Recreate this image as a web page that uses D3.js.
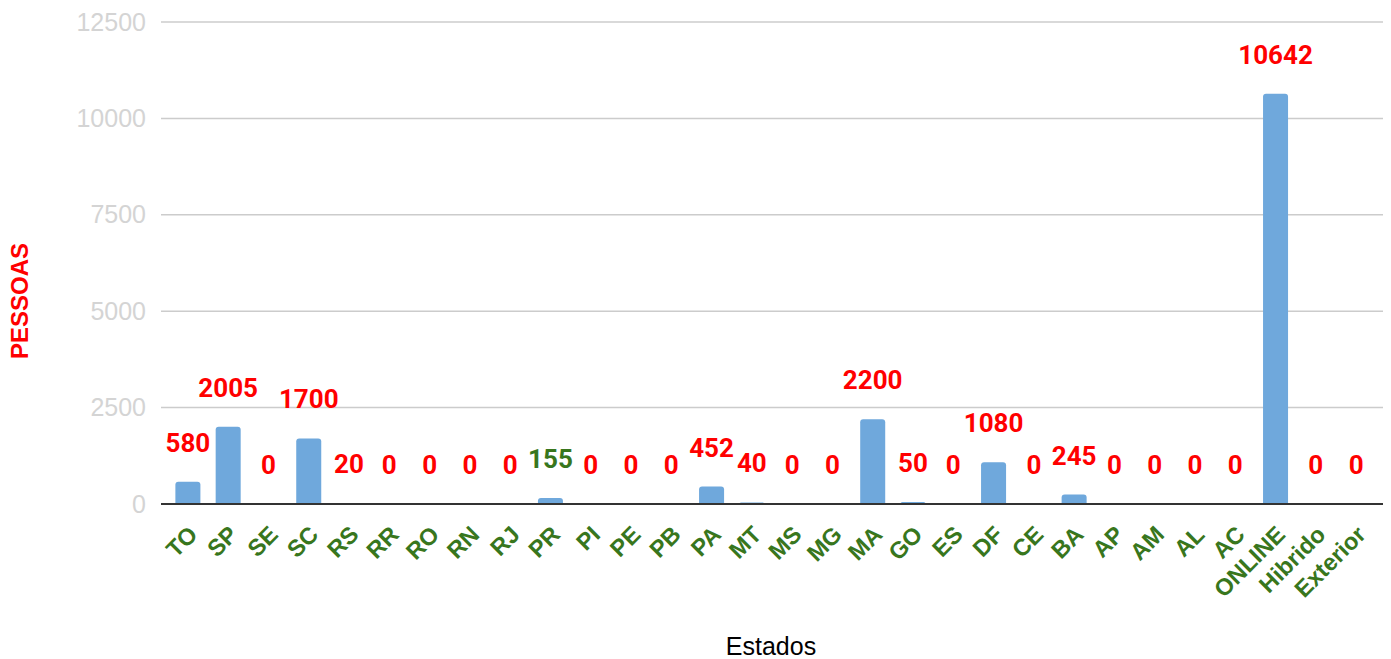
<!DOCTYPE html>
<html><head><meta charset="utf-8">
<script src="https://cdn.jsdelivr.net/npm/d3@7"></script>
<style>
html,body{margin:0;padding:0;background:#fff;}
svg{display:block;}
</style></head>
<body><svg id="chart" width="1391" height="659"></svg>
<script>
const categories = ["TO","SP","SE","SC","RS","RR","RO","RN","RJ","PR","PI","PE","PB","PA","MT","MS","MG","MA","GO","ES","DF","CE","BA","AP","AM","AL","AC","ONLINE","Hibrido","Exterior"];
const values = [580,2005,0,1700,20,0,0,0,0,155,0,0,0,452,40,0,0,2200,50,0,1080,0,245,0,0,0,0,10642,0,0];
const greenLabels = ["PR"];
const yTicks = [0,2500,5000,7500,10000,12500];

(function(){
const svg = d3.select("#chart");
const pLeft = 161, pRight = 1383, pTop = 22, pBottom = 504;

const x = d3.scaleBand().domain(categories).range([pLeft, pRight]).paddingInner(0.379).paddingOuter(0.357);
const y = d3.scaleLinear().domain([0, 12500]).range([pBottom, pTop]);

// gridlines
svg.append("g").selectAll("line").data(yTicks.filter(d => d > 0)).join("line")
  .attr("x1", pLeft).attr("x2", pRight)
  .attr("y1", d => y(d)).attr("y2", d => y(d))
  .attr("stroke", "#cccccc").attr("stroke-width", 1.5);

// y tick labels
const yAxis = d3.axisLeft(y).tickValues(yTicks).tickFormat(d3.format("d")).tickSize(0).tickPadding(15);
const gy = svg.append("g").attr("transform", `translate(${pLeft},0)`).call(yAxis);
gy.select(".domain").remove();
gy.selectAll("text").attr("fill", "#d4d4d4").style("font-family", "Arial, 'Liberation Sans', sans-serif").style("font-size", "25px");

// bars with rounded tops
const r = 3;
svg.append("g").selectAll("path").data(categories).join("path")
  .attr("fill", "#6fa8dc")
  .attr("d", (c, i) => {
    const x0 = x(c), w = x.bandwidth(), yt = y(values[i]), yb = y(0);
    if (values[i] <= 0) return "";
    const h = yb - yt, rr = Math.min(r, h);
    return `M${x0},${yb} L${x0},${yt + rr} Q${x0},${yt} ${x0 + rr},${yt} L${x0 + w - rr},${yt} Q${x0 + w},${yt} ${x0 + w},${yt + rr} L${x0 + w},${yb} Z`;
  });

// baseline
svg.append("line").attr("x1", pLeft).attr("x2", pRight).attr("y1", y(0)).attr("y2", y(0))
  .attr("stroke", "#333333").attr("stroke-width", 2);

// value labels
svg.append("g").selectAll("text").data(categories).join("text")
  .attr("x", c => x(c) + x.bandwidth() / 2)
  .attr("y", (c, i) => y(values[i]) - 30)
  .attr("text-anchor", "middle")
  .attr("fill", c => greenLabels.includes(c) ? "#38761d" : "#ff0000")
  .style("font-family", "Roboto, Arial, sans-serif").style("font-weight", "700").style("font-size", "26px")
  .text((c, i) => values[i]);

// x tick labels
const xAxis = d3.axisBottom(x).tickSize(0);
const gx = svg.append("g").attr("transform", `translate(0,${pBottom})`).call(xAxis);
gx.select(".domain").remove();
gx.selectAll("text")
  .attr("fill", "#38761d")
  .style("font-family", "Arial, 'Liberation Sans', sans-serif").style("font-weight", "700").style("font-size", "23.5px")
  .attr("text-anchor", "end")
  .attr("dy", null)
  .attr("y", 0)
  .attr("transform", "translate(11,32) rotate(-45)");

// axis titles
svg.append("text").attr("x", 771).attr("y", 655).attr("text-anchor", "middle")
  .attr("fill", "#000").style("font-family", "Arial, 'Liberation Sans', sans-serif").style("font-size", "25px")
  .text("Estados");
svg.append("text").attr("transform", "translate(28,301) rotate(-90)").attr("text-anchor", "middle")
  .attr("fill", "#ff0000").style("font-family", "Arial, 'Liberation Sans', sans-serif").style("font-weight", "700").style("font-size", "24px")
  .text("PESSOAS");
})();
</script></body></html>
